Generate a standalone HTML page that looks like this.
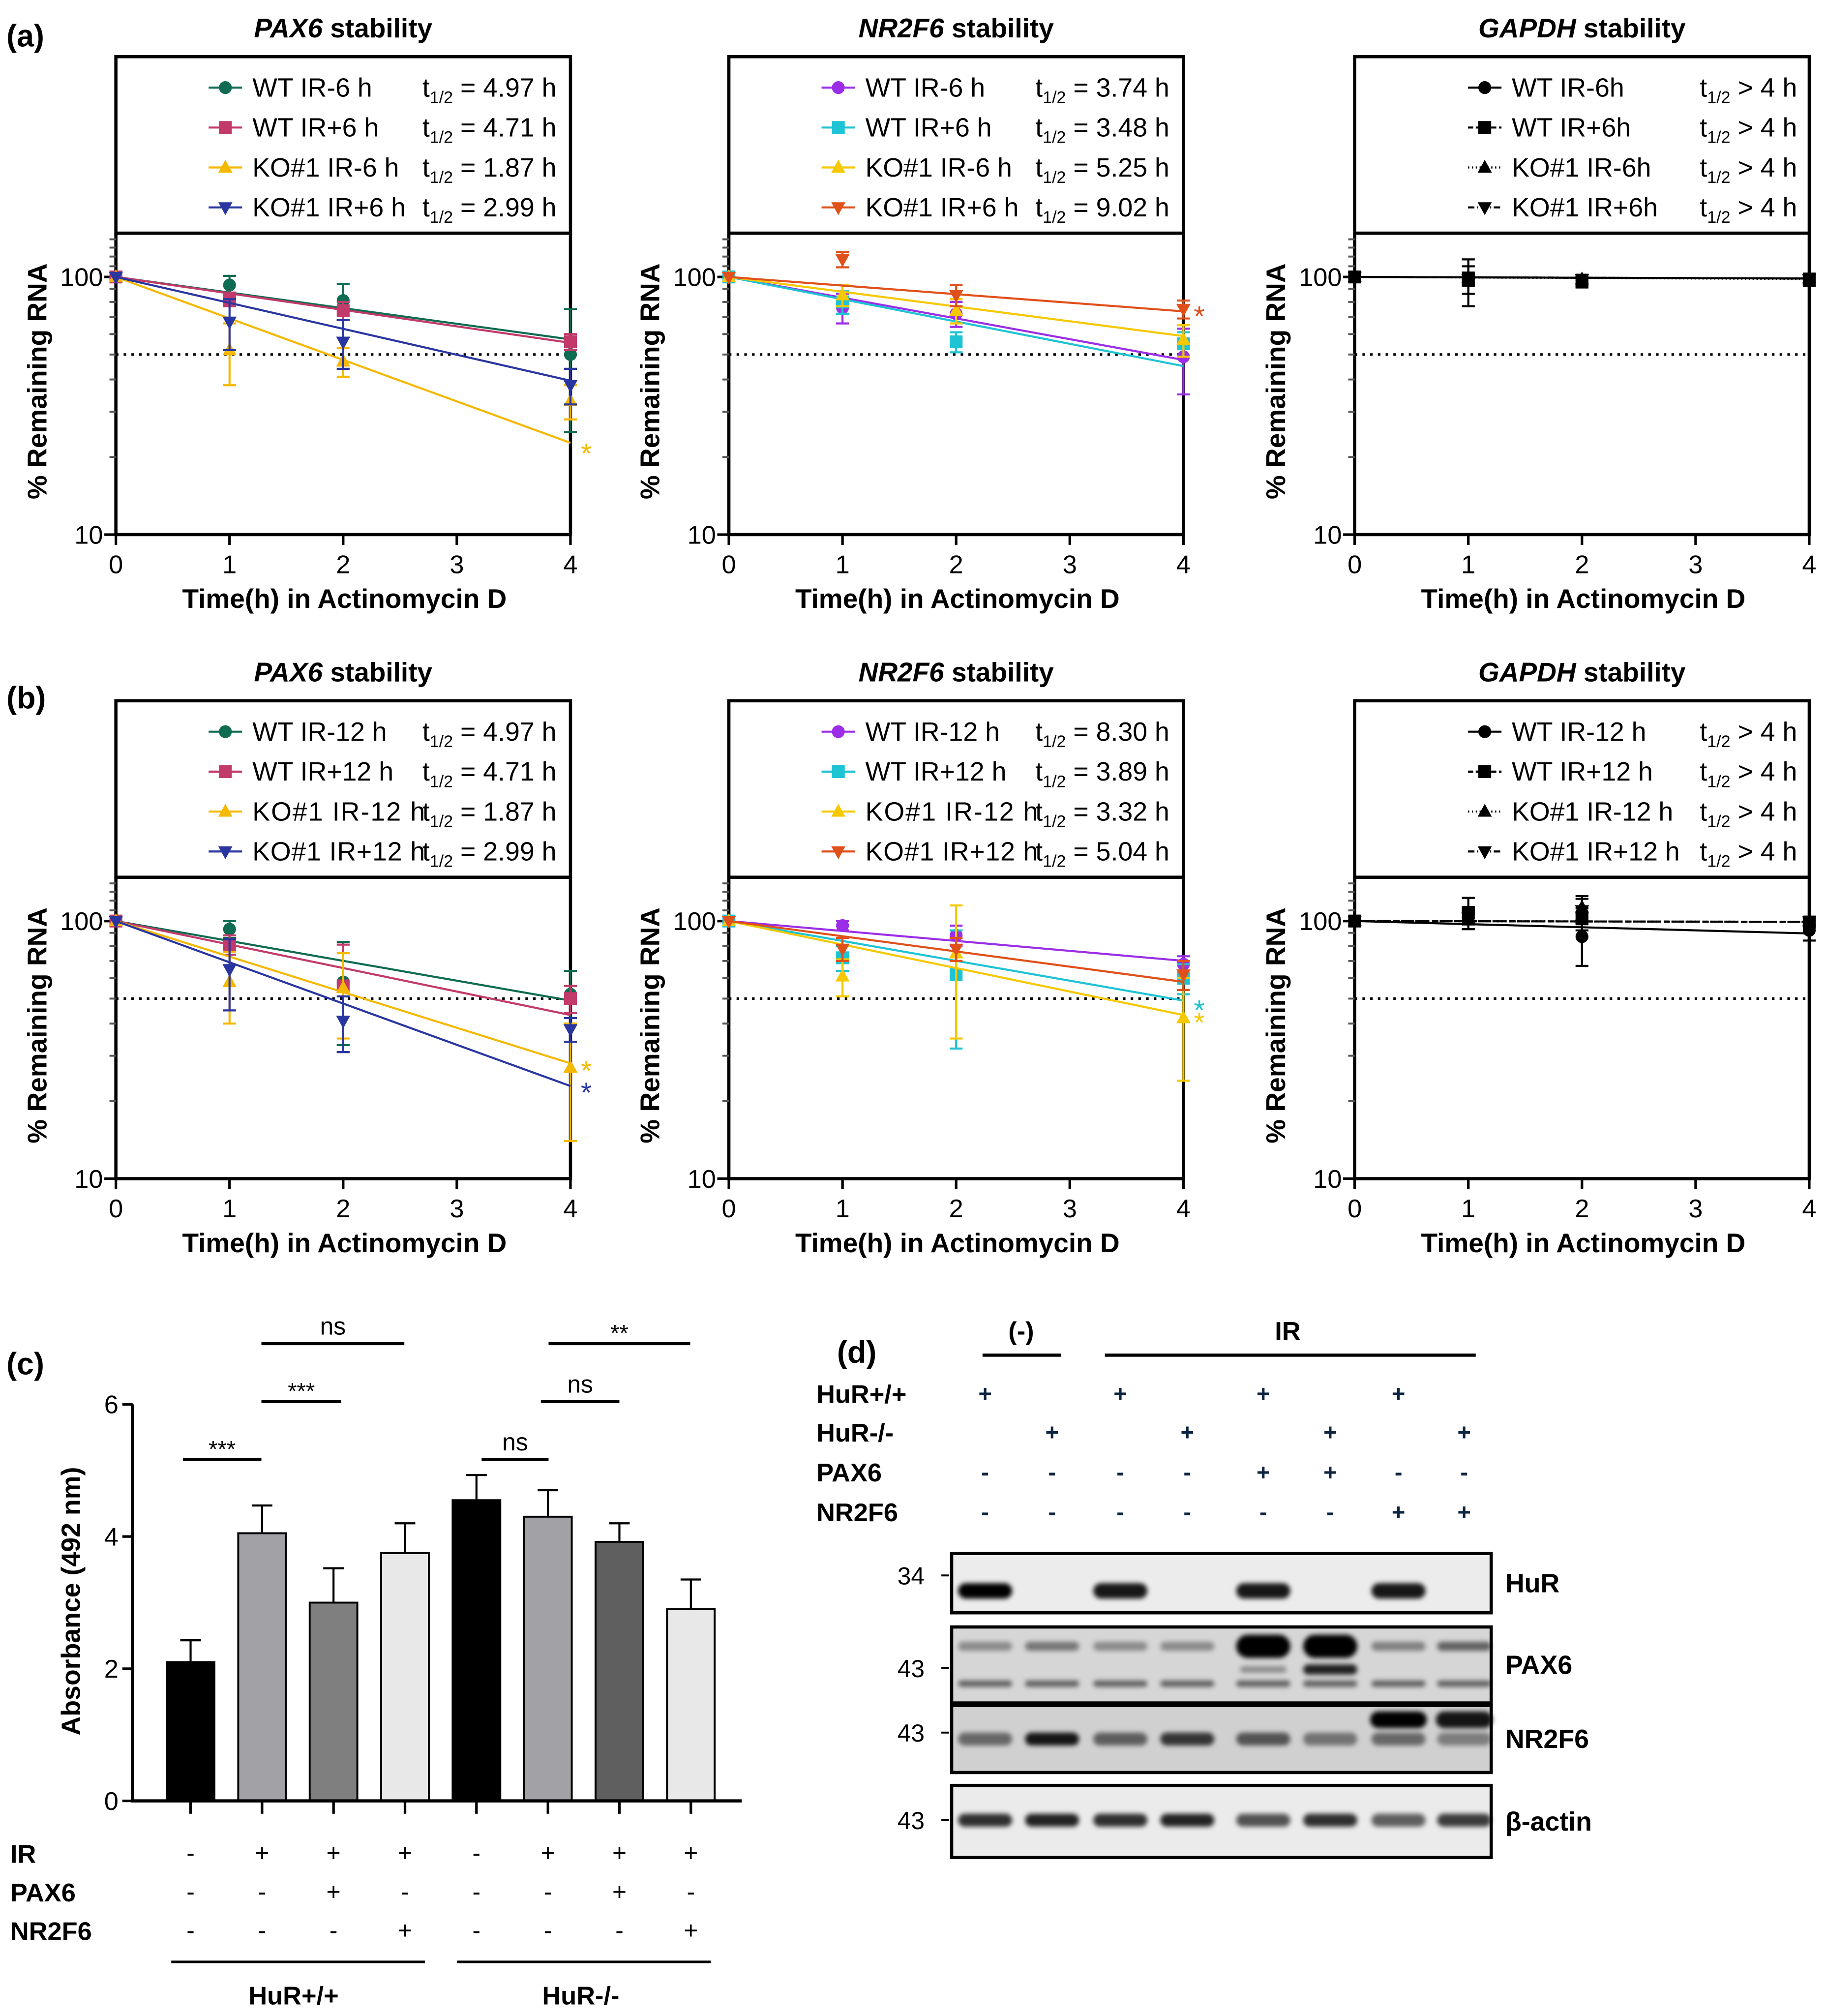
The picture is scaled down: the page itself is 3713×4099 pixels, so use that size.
<!DOCTYPE html>
<html><head><meta charset="utf-8"><style>
html,body{margin:0;padding:0;background:#fff;}
svg{display:block;font-family:"Liberation Sans",Arial,sans-serif;}
</style></head><body>
<svg id="fig" xmlns="http://www.w3.org/2000/svg" width="3713" height="4099" viewBox="0 0 1418 1565" preserveAspectRatio="none">
<defs><filter id="blur" x="-20%" y="-50%" width="140%" height="200%"><feGaussianBlur stdDeviation="1.8"/></filter></defs>
<g id="root"></g>
</svg>
<script>
// ---- data: stability panels ----
const times = [0, 1, 2, 4];
const xTicks = [0, 1, 2, 3, 4];
const panelTitles = ["PAX6", "NR2F6", "GAPDH", "PAX6", "NR2F6", "GAPDH"];
const legendA1 = ["WT IR-6 h", "WT IR+6 h", "KO#1 IR-6 h", "KO#1 IR+6 h"];
const halfA1 = ["= 4.97 h", "= 4.71 h", "= 1.87 h", "= 2.99 h"];
const valsA1 = [[100, 93, 81, 50], [100, 82, 74, 56], [100, 52, 47, 33], [100, 67, 56, 38]];
const errA1 = [[0, 8, 13, 25], [0, 5, 6, 4], [0, 14, 6, 5], [0, 15, 12, 6]];
const fitA1 = [4.97, 4.71, 1.87, 2.99];
const legendA2 = ["WT IR-6 h", "WT IR+6 h", "KO#1 IR-6 h", "KO#1 IR+6 h"];
const halfA2 = ["= 3.74 h", "= 3.48 h", "= 5.25 h", "= 9.02 h"];
const valsA2 = [[100, 76, 72, 49], [100, 80, 56, 55], [100, 85, 74, 57], [100, 117, 85, 75]];
const errA2 = [[0, 10, 8, 14], [0, 8, 5, 6], [0, 8, 8, 8], [0, 8, 8, 6]];
const fitA2 = [3.74, 3.48, 5.25, 9.02];
const legendA3 = ["WT IR-6h", "WT IR+6h", "KO#1 IR-6h", "KO#1 IR+6h"];
const halfA3 = ["> 4 h", "> 4 h", "> 4 h", "> 4 h"];
const valsA3 = [[100, 98, 97, 98], [100, 97, 96, 97], [100, 99, 98, 99], [100, 98, 98, 98]];
const errA3 = [[0, 12, 5, 4], [0, 20, 5, 4], [0, 5, 4, 4], [0, 5, 4, 4]];
const fitA3 = [200, 200, 150, 200];
const legendB1 = ["WT IR-12 h", "WT IR+12 h", "KO#1 IR-12 h", "KO#1 IR+12 h"];
const halfB1 = ["= 4.97 h", "= 4.71 h", "= 1.87 h", "= 2.99 h"];
const valsB1 = [[100, 93, 58, 52], [100, 81, 56, 50], [100, 58, 55, 27], [100, 65, 41, 38]];
const errB1 = [[0, 7, 25, 12], [0, 7, 25, 6], [0, 18, 20, 13], [0, 20, 10, 4]];
const fitB1 = [3.9, 3.3, 2.18, 1.88];
const legendB2 = ["WT IR-12 h", "WT IR+12 h", "KO#1 IR-12 h", "KO#1 IR+12 h"];
const halfB2 = ["= 8.30 h", "= 3.89 h", "= 3.32 h", "= 5.04 h"];
const valsB2 = [[100, 96, 88, 68], [100, 72, 62, 60], [100, 61, 75, 42], [100, 78, 78, 62]];
const errB2 = [[0, 4, 8, 5], [0, 8, 30, 8], [0, 10, 40, 18], [0, 8, 8, 8]];
const fitB2 = [7.8, 3.9, 3.3, 5.1];
const legendB3 = ["WT IR-12 h", "WT IR+12 h", "KO#1 IR-12 h", "KO#1 IR+12 h"];
const halfB3 = ["> 4 h", "> 4 h", "> 4 h", "> 4 h"];
const valsB3 = [[100, 103, 87, 92], [100, 108, 102, 99], [100, 104, 113, 100], [100, 103, 110, 100]];
const errB3 = [[0, 10, 20, 8], [0, 15, 10, 4], [0, 6, 12, 4], [0, 6, 12, 4]];
const fitB3 = [25, 400, 400, 400];
// ---- data: bar chart ----
const barValues = [2.1, 4.05, 3.0, 3.75, 4.55, 4.3, 3.92, 2.9];
const barErrors = [0.33, 0.42, 0.52, 0.45, 0.38, 0.4, 0.28, 0.45];
const barYTicks = [0, 2, 4, 6];
const rowIR = ["-", "+", "+", "+", "-", "+", "+", "+"];
const rowPAX6 = ["-", "-", "+", "-", "-", "-", "+", "-"];
const rowNR2F6 = ["-", "-", "-", "+", "-", "-", "-", "+"];
// ---- data: blot ----
const blotHuRpp = ["+", "", "+", "", "+", "", "+", ""];
const blotHuRmm = ["", "+", "", "+", "", "+", "", "+"];
const blotPAX6 = ["-", "-", "-", "-", "+", "+", "-", "-"];
const blotNR2F6 = ["-", "-", "-", "-", "-", "-", "+", "+"];
const bandHuR = [1, 0, 0.9, 0, 0.9, 0, 0.9, 0];
const bandPAX6 = [0.35, 0.45, 0.35, 0.35, 1, 1, 0.4, 0.55];
const bandNR2F6 = [0.5, 0.9, 0.55, 0.75, 0.6, 0.45, 0.5, 0.4];
const bandNR2F6up = [0, 0, 0, 0, 0, 0, 1, 0.9];
const bandActin = [0.8, 0.85, 0.8, 0.85, 0.65, 0.8, 0.6, 0.75];

const NS = "http://www.w3.org/2000/svg";
const root = document.getElementById("root");
function mk(tag, attrs, parent, text) {
  const e = document.createElementNS(NS, tag);
  for (const k in attrs) if (attrs[k] !== undefined) e.setAttribute(k, attrs[k]);
  if (text !== undefined) e.textContent = text;
  (parent || root).appendChild(e);
  return e;
}
function txt(x, y, s, size, parent, extra) {
  const a = Object.assign({ x: x, y: y, "font-size": size, "font-weight": "bold", fill: "#000" }, extra || {});
  return mk("text", a, parent, s);
}

const colorsNormal = ["#0f6b52", "#c23a6a", "#f5b800", "#2a36a0"];
const colorsNR = ["#9b2ee6", "#1ec3d4", "#f5c800", "#e0501a"];
const colorsBlack = ["#000", "#000", "#000", "#000"];
const dashBlack = ["", "4,2", "1,2", "5,2,1,2"];

function marker(g, shape, x, y, c) {
  if (shape === 0) mk("circle", { cx: x, cy: y, r: 5, fill: c }, g);
  else if (shape === 1) mk("rect", { x: x - 5, y: y - 5, width: 10, height: 10, fill: c }, g);
  else if (shape === 2) mk("polygon", { points: `${x},${y - 6} ${x - 5.5},${y + 4} ${x + 5.5},${y + 4}`, fill: c }, g);
  else mk("polygon", { points: `${x},${y + 6} ${x - 5.5},${y - 4} ${x + 5.5},${y - 4}`, fill: c }, g);
}

function panel(name, x0, top, title, legend, halfs, vals, errs, fits, colors, dashes, stars, gap) {
  const g = mk("g", {}, root);
  
  
  const W = 353, legTop = top, plotTop = top + 137, y100 = top + 171, y10 = top + 371;
  const lo = gap ? 16 : 0, to = gap ? 30 : 0;
  const xs = t => x0 + t * W / 4;
  const ys = v => y100 + (2 - Math.log10(v)) * 200;
  const tt = mk("text", { x: x0 + W / 2, y: top - 15, "font-size": 21, "font-weight": "bold", "text-anchor": "middle" }, g);
  
  
  mk("tspan", { "font-style": "italic" }, tt, title);
  mk("tspan", {}, tt, " stability");
  const lb = mk("rect", { x: x0, y: legTop, width: W, height: 137, fill: "none", stroke: "#000", "stroke-width": 2.5 }, g);
  
  
  legend.forEach((lab, i) => {
    const ly = legTop + 24 + i * 31;
    const le = mk("g", {}, g);
    
    
    mk("line", { x1: x0 + 72 + lo, x2: x0 + 98 + lo, y1: ly, y2: ly, stroke: colors[i], "stroke-width": 1.6, "stroke-dasharray": dashes[i] }, le);
    marker(le, i, x0 + 85 + lo, ly, colors[i]);
    txt(x0 + 106 + lo, ly + 7, lab, 20.5, le, { "font-weight": "normal", textLength: (!gap && lab.length > 11) ? 134 : undefined });
    const t2 = mk("text", { x: x0 + 238 + to, y: ly + 7, "font-size": 20.5 }, le);
    mk("tspan", {}, t2, "t");
    mk("tspan", { "font-size": 13, dy: 5 }, t2, "1/2");
    mk("tspan", { dy: -5 }, t2, " " + halfs[i]);
  });
  mk("path", { d: `M${x0} ${plotTop} V${y10} H${x0 + W} V${plotTop}`, fill: "none", stroke: "#000", "stroke-width": 2.5 }, g);
  [10, 100].forEach(v => {
    mk("line", { x1: x0 - 9, x2: x0, y1: ys(v), y2: ys(v), stroke: "#000", "stroke-width": 2 }, g);
    txt(x0 - 10, ys(v) + 7, String(v), 20, g, { "text-anchor": "end", "font-weight": "normal" });
  });
  [20, 30, 40, 50, 60, 70, 80, 90, 110, 120, 130, 140].forEach(v => {
    mk("line", { x1: x0 - 5, x2: x0, y1: ys(v), y2: ys(v), stroke: "#555", "stroke-width": 1.5 }, g);
  });
  xTicks.forEach(t => {
    mk("line", { x1: xs(t), x2: xs(t), y1: y10, y2: y10 + 8, stroke: "#000", "stroke-width": 2 }, g);
    txt(xs(t), y10 + 30, String(t), 20, g, { "text-anchor": "middle", "font-weight": "normal" });
  });
  const xt = txt(x0 + W / 2 + 1, y10 + 57, "Time(h) in Actinomycin D", 21, g, { "text-anchor": "middle" });
  
  
  const yt = txt(0, 0, "% Remaining RNA", 21, g, { "text-anchor": "middle", transform: `translate(${x0 - 54},${(plotTop + y10) / 2 - 2}) rotate(-90)` });
  
  
  mk("line", { x1: x0, x2: x0 + W, y1: ys(50), y2: ys(50), stroke: "#000", "stroke-width": 2, "stroke-dasharray": "2,4" }, g);
  vals.forEach((series, i) => {
    const sg = mk("g", {}, g);
    
    
    const end = 100 * Math.pow(2, -4 / fits[i]);
    mk("line", { x1: xs(0), y1: ys(100), x2: xs(4), y2: ys(end), stroke: colors[i], "stroke-width": 1.6, "stroke-dasharray": dashes[i] }, sg);
    series.forEach((v, j) => {
      const e = errs[i][j];
      if (e > 0) {
        const low = Math.max(v - e, 11);
        mk("path", { d: `M${xs(times[j])} ${ys(v + e)} V${ys(low)} M${xs(times[j]) - 5} ${ys(v + e)} h10 M${xs(times[j]) - 5} ${ys(low)} h10`, stroke: colors[i], "stroke-width": 1.6, fill: "none" }, sg);
      }
      marker(sg, i, xs(times[j]), ys(v), colors[i]);
    });
  });
  (stars || []).forEach(s => {
    txt(x0 + W + 8, ys(s[0]) + 13, "*", 22, g, { fill: s[1], "font-weight": "normal" });
  });
}

panel("panel-a-pax6", 90, 44, "PAX6", legendA1, halfA1, valsA1, errA1, fitA1, colorsNormal, ["", "", "", ""], [[22, "#f5b800"]], false);
panel("panel-a-nr2f6", 566, 44, "NR2F6", legendA2, halfA2, valsA2, errA2, fitA2, colorsNR, ["", "", "", ""], [[75, "#e0501a"]], false);
panel("panel-a-gapdh", 1052, 44, "GAPDH", legendA3, halfA3, valsA3, errA3, fitA3, colorsBlack, dashBlack, [], true);
panel("panel-b-pax6", 90, 544, "PAX6", legendB1, halfB1, valsB1, errB1, fitB1, colorsNormal, ["", "", "", ""], [[28, "#f5b800"], [23, "#2a36a0"]], false);
panel("panel-b-nr2f6", 566, 544, "NR2F6", legendB2, halfB2, valsB2, errB2, fitB2, colorsNR, ["", "", "", ""], [[48, "#1ec3d4"], [43, "#f5c800"]], false);
panel("panel-b-gapdh", 1052, 544, "GAPDH", legendB3, halfB3, valsB3, errB3, fitB3, colorsBlack, dashBlack, [], true);

[["(a)", 5, 36], ["(b)", 5, 550], ["(c)", 5, 1067], ["(d)", 650, 1058]].forEach(p => {
  const t = txt(p[1], p[2], p[0], 24);
  
  
});

// ---- bar chart (c) ----
(function () {
  const g = mk("g", {});
  
  
  const ax = 103, y0 = 1398, unit = 51.3;
  const ys = v => y0 - v * unit;
  const cx = i => 148 + i * 55.5;
  const fills = ["#000", "#a2a2a6", "#7f7f7f", "#e8e8e8", "#000", "#a2a2a6", "#5f5f5f", "#e8e8e8"];
  barValues.forEach((v, i) => {
    const b = mk("rect", { x: cx(i) - 18.5, y: ys(v), width: 37, height: v * unit, fill: fills[i], stroke: "#000", "stroke-width": 1.5 }, g);
    
    
    mk("path", { d: `M${cx(i)} ${ys(v)} V${ys(v + barErrors[i])} M${cx(i) - 8} ${ys(v + barErrors[i])} h16`, stroke: "#000", "stroke-width": 1.6, fill: "none" }, g);
    mk("line", { x1: cx(i), x2: cx(i), y1: y0, y2: y0 + 10, stroke: "#000", "stroke-width": 2 }, g);
    txt(cx(i), 1445, rowIR[i], 19, g, { "text-anchor": "middle", "font-weight": "normal" });
    txt(cx(i), 1475, rowPAX6[i], 19, g, { "text-anchor": "middle", "font-weight": "normal" });
    txt(cx(i), 1505, rowNR2F6[i], 19, g, { "text-anchor": "middle", "font-weight": "normal" });
  });
  mk("path", { d: `M${ax} ${ys(6)} V${y0} H576`, stroke: "#000", "stroke-width": 2.5, fill: "none" }, g);
  barYTicks.forEach(v => {
    mk("line", { x1: ax - 8, x2: ax, y1: ys(v), y2: ys(v), stroke: "#000", "stroke-width": 2 }, g);
    txt(ax - 11, ys(v) + 7, String(v), 20, g, { "text-anchor": "end", "font-weight": "normal" });
  });
  const yt = txt(0, 0, "Absorbance (492 nm)", 20.5, g, { "text-anchor": "middle", transform: "translate(62,1243) rotate(-90)" });
  
  
  txt(8, 1446, "IR", 20, g); txt(8, 1476, "PAX6", 20, g); txt(8, 1506, "NR2F6", 20, g);
  mk("line", { x1: 133, x2: 330, y1: 1523, y2: 1523, stroke: "#000", "stroke-width": 2 }, g);
  mk("line", { x1: 355, x2: 552, y1: 1523, y2: 1523, stroke: "#000", "stroke-width": 2 }, g);
  txt(228, 1556, "HuR+/+", 20, g, { "text-anchor": "middle" });
  txt(451, 1556, "HuR-/-", 20, g, { "text-anchor": "middle" });
  [[142, 203, 1133, "***"], [203, 265, 1088, "***"], [203, 314, 1043, "ns"], [374, 426, 1133, "ns"], [420, 481, 1088, "ns"], [426, 536, 1043, "**"]].forEach(s => {
    const sg = mk("g", {}, g);
    
    
    mk("line", { x1: s[0], x2: s[1], y1: s[2], y2: s[2], stroke: "#000", "stroke-width": 2.5 }, sg);
    txt((s[0] + s[1]) / 2, s[2] - (s[3] === "ns" ? 7 : 2), s[3], s[3] === "ns" ? 19 : 18, sg, { "text-anchor": "middle", "font-weight": "normal" });
  });
})();

// ---- western blot (d) ----
(function () {
  const g = mk("g", {});
  
  
  const lanes = [765, 817, 870, 922, 981, 1033, 1086, 1137];
  txt(793, 1040, "(-)", 20, g, { "text-anchor": "middle" });
  mk("line", { x1: 763, x2: 824, y1: 1052, y2: 1052, stroke: "#000", "stroke-width": 2.5 }, g);
  txt(1000, 1040, "IR", 20, g, { "text-anchor": "middle" });
  mk("line", { x1: 858, x2: 1146, y1: 1052, y2: 1052, stroke: "#000", "stroke-width": 2.5 }, g);
  const rows = [["HuR+/+", blotHuRpp, 1089], ["HuR-/-", blotHuRmm, 1119], ["PAX6", blotPAX6, 1150], ["NR2F6", blotNR2F6, 1181]];
  rows.forEach(r => {
    txt(634, r[2], r[0], 20, g);
    r[1].forEach((s, i) => { if (s) txt(lanes[i], r[2] - 1, s, 18, g, { "text-anchor": "middle", fill: "#0d2440" }); });
  });
  function blot(name, y, h, bg, label, mw, mwY) {
    const bg2 = mk("g", {}, g);
    
    
    mk("rect", { x: 739, y: y, width: 419, height: h, fill: bg }, bg2);
    const bands = mk("g", { filter: "url(#blur)" }, bg2);
    mk("rect", { x: 739, y: y, width: 419, height: h, fill: "none", stroke: "#000", "stroke-width": 2.5 }, bg2);
    txt(1169, y + h / 2 + 7, label, 20.5, bg2);
    txt(718, mwY + 7, mw, 19, bg2, { "text-anchor": "end", "font-weight": "normal" });
    mk("line", { x1: 731, x2: 737, y1: mwY, y2: mwY, stroke: "#000", "stroke-width": 1.5 }, bg2);
    return bands;
  }
  function band(g2, x, y, w, h, a) {
    if (a <= 0) return;
    mk("rect", { x: x - w / 2, y: y - h / 2, width: w, height: h, rx: h / 2, fill: "#000", opacity: a }, g2);
  }
  let b = blot("blot-hur", 1206, 46, "#ececec", "HuR", "34", 1223);
  bandHuR.forEach((a, i) => band(b, lanes[i], 1235, 42, 12, a));
  b = blot("blot-pax6", 1263, 59, "#d6d6d6", "PAX6", "43", 1295);
  bandPAX6.forEach((a, i) => {
    band(b, lanes[i], 1278, 42, a > 0.9 ? 18 : 7, a);
    band(b, lanes[i], 1307, 42, 5, 0.55);
    if (i === 4) band(b, lanes[i], 1296, 36, 5, 0.35);
    if (i === 5) band(b, lanes[i], 1296, 42, 8, 0.85);
  });
  b = blot("blot-nr2f6", 1324, 52, "#d0d0d0", "NR2F6", "43", 1345);
  bandNR2F6.forEach((a, i) => band(b, lanes[i], 1350, 42, 10, a));
  bandNR2F6up.forEach((a, i) => band(b, lanes[i], 1335, 44, 13, a));
  b = blot("blot-beta-actin", 1386, 56, "#ebebeb", "β-actin", "43", 1413);
  bandActin.forEach((a, i) => band(b, lanes[i], 1413, 42, 10, a));
})();
</script>
</body></html>
